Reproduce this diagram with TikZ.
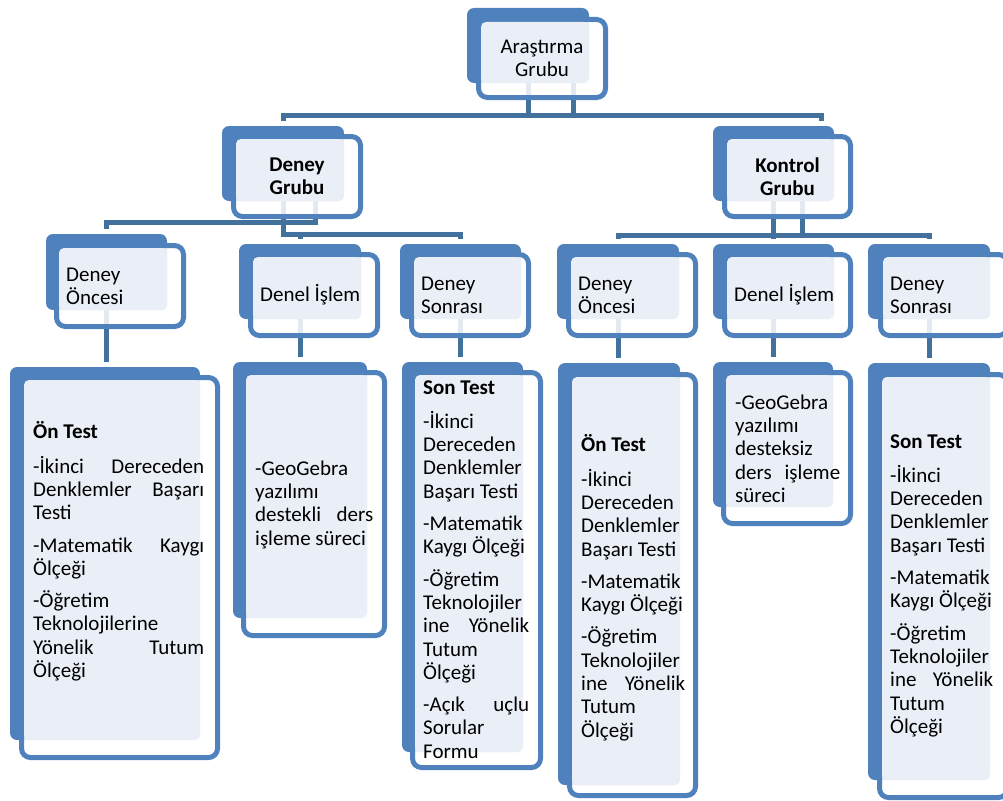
\documentclass[tikz,border=0pt]{standalone}
\usepackage{fontspec}
\setmainfont{Carlito}
\usepackage{tikz}
\usetikzlibrary{fit, backgrounds}

\definecolor{boxblue}{HTML}{4F81BD}
\definecolor{lineblue}{HTML}{41719C}
\definecolor{paleblue}{HTML}{EAEFF7}

\tikzset{
    backbox/.style={rectangle, fill=boxblue, inner sep=0pt, outer sep=0pt, rounded corners=7pt},
    frontbox/.style={rectangle, draw=boxblue, line width=5pt, fill=white, fill opacity=0.85,
        inner sep=-2.5pt, outer sep=0pt, rounded corners=9pt},
    conn/.style={draw=lineblue, line width=5pt},
    headtext/.style={align=center, inner sep=0pt},
    steptext/.style={align=left, anchor=west, inner sep=0pt},
    listtext/.style={align=left, anchor=north west, inner sep=0pt},
}

% box: name, back corners, front (outer) corners
\newcommand{\orgbox}[5]{%
    \node[backbox, fit={#2 #3}] (#1b) {};
    \node[frontbox, fit={#4 #5}] (#1) {};
    \fill[paleblue, rounded corners=5pt] ([shift={(2.5,2.5)}]#1.north west) rectangle (#1b.south east);
}

\begin{document}
\begin{tikzpicture}[x=1pt, y=-1pt,
    every node/.append style={font=\fontsize{21pt}{23.3pt}\selectfont,
        execute at begin node={\spaceskip=0pt\xspaceskip=0pt}}]
    \useasboundingbox (0,0) rectangle (1003,800);
    \clip (0,0) rectangle (1003,800);

    % Level 1 and 2
    \orgbox{ag}{(467,8)}{(589,83)}{(476,17)}{(608,100)}
    \orgbox{dg}{(222,126)}{(344,201)}{(231,134)}{(363,219)}
    \orgbox{kg}{(713,126)}{(834,201)}{(722,134)}{(853,219)}
    \node[headtext] (t-ag) at (ag.center) {Araştırma\\Grubu};
    \node[headtext] (t-dg) at (dg.center) {\textbf{Deney}\\\textbf{Grubu}};
    \node[headtext] (t-kg) at (kg.center) {\textbf{Kontrol}\\\textbf{Grubu}};

    % Level 3
    \orgbox{doL}{(46,234)}{(167,310)}{(54,243)}{(186,329)}
    \orgbox{deL}{(239,244)}{(361,319)}{(248,252)}{(380,338)}
    \orgbox{dsL}{(400,244)}{(521,319)}{(409,252)}{(531,338)}
    \orgbox{doR}{(557,244)}{(679,319)}{(566,252)}{(698,338)}
    \orgbox{deR}{(713,244)}{(834,319)}{(722,252)}{(853,338)}
    \orgbox{dsR}{(868,244)}{(990,319)}{(878,252)}{(1010,338)}
    \node[steptext] (t-doL) at ([xshift=9.5pt]doL.west) {Deney\\Öncesi};
    \node[steptext] (t-deL) at ([xshift=9.5pt]deL.west) {Denel İşlem};
    \node[steptext] (t-dsL) at ([xshift=9.5pt]dsL.west) {Deney\\Sonrası};
    \node[steptext] (t-doR) at ([xshift=9.5pt]doR.west) {Deney\\Öncesi};
    \node[steptext] (t-deR) at ([xshift=9.5pt]deR.west) {Denel İşlem};
    \node[steptext] (t-dsR) at ([xshift=9.5pt]dsR.west) {Deney\\Sonrası};

    % Level 4
    \orgbox{onL}{(10,367)}{(200,740)}{(19,375)}{(220,760)}
    \orgbox{geL}{(233,362)}{(367,618)}{(241,370)}{(387,638)}
    \orgbox{snL}{(402,362)}{(523,752)}{(410,370)}{(543,770)}
    \orgbox{onR}{(558,363)}{(680,785)}{(567,372)}{(698,798)}
    \orgbox{geR}{(713,362)}{(833,507)}{(721,370)}{(853,526)}
    \orgbox{snR}{(868,363)}{(990,780)}{(877,372)}{(1010,800)}

    \node[listtext, text width=171pt] (t-onL) at (33,421.7) {\strut\textbf{Ön Test}\\[9pt]
        -İkinci\hfill Dereceden\\ Denklemler\hfill Başarı\\ Testi\\[9pt]
        -Matematik\hfill Kaygı\\ Ölçeği\\[9pt]
        -Öğretim\\ Teknolojilerine\\ Yönelik\hfill Tutum\\ Ölçeği};
    \node[listtext, text width=118pt] (t-geL) at (255,458.7) {\strut -GeoGebra\\ yazılımı\\
        destekli\hfill ders\\ işleme süreci};
    \node[listtext, text width=106pt] (t-snL) at (423,377.7) {\strut\textbf{Son Test}\\[9pt]
        -İkinci\\ Dereceden\\ Denklemler\\ Başarı Testi\\[9pt]
        -Matematik\\ Kaygı Ölçeği\\[9pt]
        -Öğretim\\ Teknolojiler\\ ine\hfill Yönelik\\ Tutum\\ Ölçeği\\[9pt]
        -Açık\hfill uçlu\\ Sorular\\ Formu};
    \node[listtext, text width=104pt] (t-onR) at (581,434.7) {\strut\textbf{Ön Test}\\[9pt]
        -İkinci\\ Dereceden\\ Denklemler\\ Başarı Testi\\[9pt]
        -Matematik\\ Kaygı Ölçeği\\[9pt]
        -Öğretim\\ Teknolojiler\\ ine\hfill Yönelik\\ Tutum\\ Ölçeği};
    \node[listtext, text width=105pt] (t-geR) at (735,392.7) {\strut -GeoGebra\\ yazılımı\\
        desteksiz\\ ders\hfill işleme\\ süreci};
    \node[listtext, text width=103pt] (t-snR) at (890,431.7) {\strut\textbf{Son Test}\\[9pt]
        -İkinci\\ Dereceden\\ Denklemler\\ Başarı Testi\\[9pt]
        -Matematik\\ Kaygı Ölçeği\\[9pt]
        -Öğretim\\ Teknolojiler\\ ine\hfill Yönelik\\ Tutum\\ Ölçeği};

    % Connectors
    \begin{pgfonlayer}{background}
        \coordinate (busT) at (0,115);
        \coordinate (busD1) at (0,222);
        \coordinate (busD2) at (0,234);
        \coordinate (busK) at (0,235);

        \draw[conn] (agb.south) -- (agb.south |- busT);
        \draw[conn] ([xshift=45pt]agb.south) -- ([xshift=45pt]agb.south |- busT);
        \draw[conn, shorten <=5pt, shorten >=5pt] (dgb.north) -- (dgb.north |- busT)
            -- ([xshift=48pt]kgb.north |- busT) -- ([xshift=48pt]kgb.north);

        \draw[conn, shorten >=5pt] ([xshift=32pt]dgb.south) |- (doLb.north |- busD1) -- (doLb.north);
        \draw[conn, shorten >=5pt] (dgb.south) |- (dsLb.north |- busD2) -- (dsLb.north);
        \draw[conn, shorten >=5pt] (deLb.north |- busD2) -- (deLb.north);

        \draw[conn, shorten >=5pt] (kgb.south) -- (deRb.north);
        \draw[conn] ([xshift=29pt]kgb.south) -- ([xshift=29pt]kgb.south |- busK);
        \draw[conn, shorten <=5pt, shorten >=5pt] (doRb.north) -- (doRb.north |- busK)
            -- (dsRb.north |- busK) -- (dsRb.north);

        \draw[conn, shorten >=5pt] (doLb.south) -- (doLb.south |- onLb.north);
        \draw[conn, shorten >=5pt] (deLb.south) -- (deLb.south |- geLb.north);
        \draw[conn, shorten >=5pt] (dsLb.south) -- (dsLb.south |- snLb.north);
        \draw[conn, shorten >=5pt] (doRb.south) -- (doRb.south |- onRb.north);
        \draw[conn, shorten >=5pt] (deRb.south) -- (deRb.south |- geRb.north);
        \draw[conn, shorten >=5pt] (dsRb.south) -- (dsRb.south |- snRb.north);
    \end{pgfonlayer}
\end{tikzpicture}
\end{document}
